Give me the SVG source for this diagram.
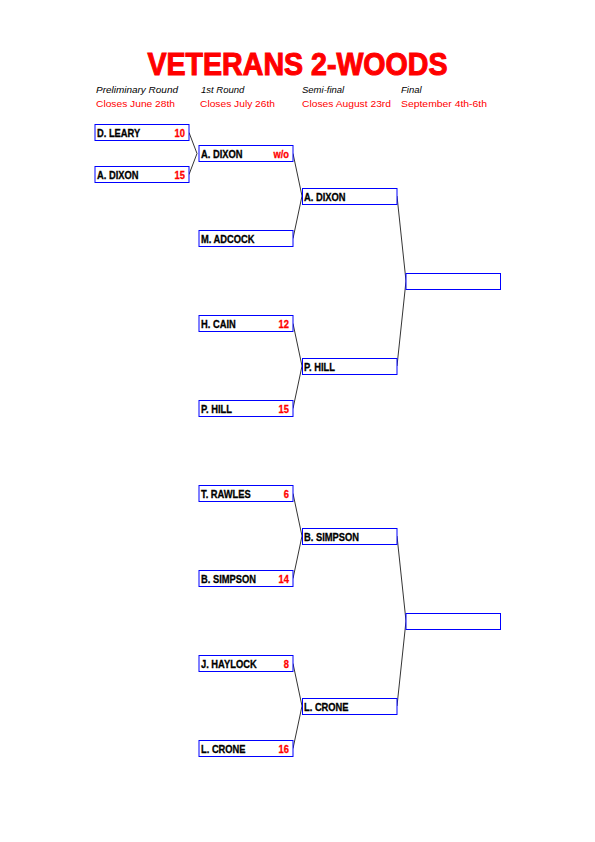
<svg xmlns="http://www.w3.org/2000/svg" width="595" height="842" viewBox="0 0 595 842">
<style>
.bg{fill:#fff}
.box{fill:#fff;stroke:#0000ff;stroke-width:1}
.nm{font-family:"Liberation Sans",Arial,sans-serif;font-weight:bold;font-size:11px;fill:#000;stroke:#000;stroke-width:0.3}
.sc{font-family:"Liberation Sans",Arial,sans-serif;font-weight:bold;font-size:11px;fill:#ff0000;stroke:#ff0000;stroke-width:0.3;text-anchor:end}
.hd{font-family:"Liberation Sans",Arial,sans-serif;font-style:italic;font-size:9.5px;fill:#000}
.cl{font-family:"Liberation Sans",Arial,sans-serif;font-size:9.5px;fill:#ff0000}
.title{font-family:"Liberation Sans",Arial,sans-serif;font-weight:bold;font-size:32px;fill:#ff0000;stroke:#ff0000;stroke-width:1.1}
.ln{fill:none;stroke:#000;stroke-width:0.8}
</style>
<rect class="bg" x="0" y="0" width="595" height="842"/>
<text class="title" x="147.5" y="75" textLength="300" lengthAdjust="spacingAndGlyphs">VETERANS 2-WOODS</text>
<g id="headers">
<text class="hd" x="96" y="93" textLength="82" lengthAdjust="spacingAndGlyphs">Preliminary Round</text>
<text class="hd" x="201" y="93">1st Round</text>
<text class="hd" x="302" y="93">Semi-final</text>
<text class="hd" x="401" y="93">Final</text>
<text class="cl" x="96" y="107" textLength="79" lengthAdjust="spacingAndGlyphs">Closes June 28th</text>
<text class="cl" x="200" y="107" textLength="75" lengthAdjust="spacingAndGlyphs">Closes July 26th</text>
<text class="cl" x="302" y="107" textLength="89" lengthAdjust="spacingAndGlyphs">Closes August 23rd</text>
<text class="cl" x="401" y="107" textLength="86" lengthAdjust="spacingAndGlyphs">September 4th-6th</text>
</g>
<g id="connectors">
<polyline class="ln" points="189,132.5 197,153.5 189,174.5"/>
<polyline class="ln" points="293,153.5 302,196 293,238.5"/>
<polyline class="ln" points="293,323.5 302,366 293,408.5"/>
<polyline class="ln" points="293,493.5 302,536 293,578.5"/>
<polyline class="ln" points="293,663.5 302,706 293,748.5"/>
<polyline class="ln" points="397,196 406,281 397,366"/>
<polyline class="ln" points="397,536 406,621 397,706"/>
</g>
<g id="p1"><rect class="box" x="95" y="124.5" width="94" height="16"/><text class="nm" transform="translate(97,137) scale(0.85,1)">D. LEARY</text><text class="sc" transform="translate(185,137) scale(0.85,1)">10</text></g>
<g id="p2"><rect class="box" x="95" y="166.5" width="94" height="16"/><text class="nm" transform="translate(97,179) scale(0.85,1)">A. DIXON</text><text class="sc" transform="translate(185,179) scale(0.85,1)">15</text></g>
<g id="r1"><rect class="box" x="199" y="145.5" width="94" height="16"/><text class="nm" transform="translate(201,158) scale(0.85,1)">A. DIXON</text><text class="sc" transform="translate(289,158) scale(0.85,1)">w/o</text></g>
<g id="r2"><rect class="box" x="199" y="230.5" width="94" height="16"/><text class="nm" transform="translate(201,243) scale(0.85,1)">M. ADCOCK</text></g>
<g id="r3"><rect class="box" x="199" y="315.5" width="94" height="16"/><text class="nm" transform="translate(201,328) scale(0.85,1)">H. CAIN</text><text class="sc" transform="translate(289,328) scale(0.85,1)">12</text></g>
<g id="r4"><rect class="box" x="199" y="400.5" width="94" height="16"/><text class="nm" transform="translate(201,413) scale(0.85,1)">P. HILL</text><text class="sc" transform="translate(289,413) scale(0.85,1)">15</text></g>
<g id="r5"><rect class="box" x="199" y="485.5" width="94" height="16"/><text class="nm" transform="translate(201,498) scale(0.85,1)">T. RAWLES</text><text class="sc" transform="translate(289,498) scale(0.85,1)">6</text></g>
<g id="r6"><rect class="box" x="199" y="570.5" width="94" height="16"/><text class="nm" transform="translate(201,583) scale(0.85,1)">B. SIMPSON</text><text class="sc" transform="translate(289,583) scale(0.85,1)">14</text></g>
<g id="r7"><rect class="box" x="199" y="655.5" width="94" height="16"/><text class="nm" transform="translate(201,668) scale(0.85,1)">J. HAYLOCK</text><text class="sc" transform="translate(289,668) scale(0.85,1)">8</text></g>
<g id="r8"><rect class="box" x="199" y="740.5" width="94" height="16"/><text class="nm" transform="translate(201,753) scale(0.85,1)">L. CRONE</text><text class="sc" transform="translate(289,753) scale(0.85,1)">16</text></g>
<g id="s1"><rect class="box" x="302.5" y="188.5" width="94.5" height="16"/><text class="nm" transform="translate(304,201) scale(0.85,1)">A. DIXON</text></g>
<g id="s2"><rect class="box" x="302.5" y="358.5" width="94.5" height="16"/><text class="nm" transform="translate(304,371) scale(0.85,1)">P. HILL</text></g>
<g id="s3"><rect class="box" x="302.5" y="528.5" width="94.5" height="16"/><text class="nm" transform="translate(304,541) scale(0.85,1)">B. SIMPSON</text></g>
<g id="s4"><rect class="box" x="302.5" y="698.5" width="94.5" height="16"/><text class="nm" transform="translate(304,711) scale(0.85,1)">L. CRONE</text></g>
<g id="f1"><rect class="box" x="406" y="273.5" width="94.5" height="16"/></g>
<g id="f2"><rect class="box" x="406" y="613.5" width="94.5" height="16"/></g>
</svg>
